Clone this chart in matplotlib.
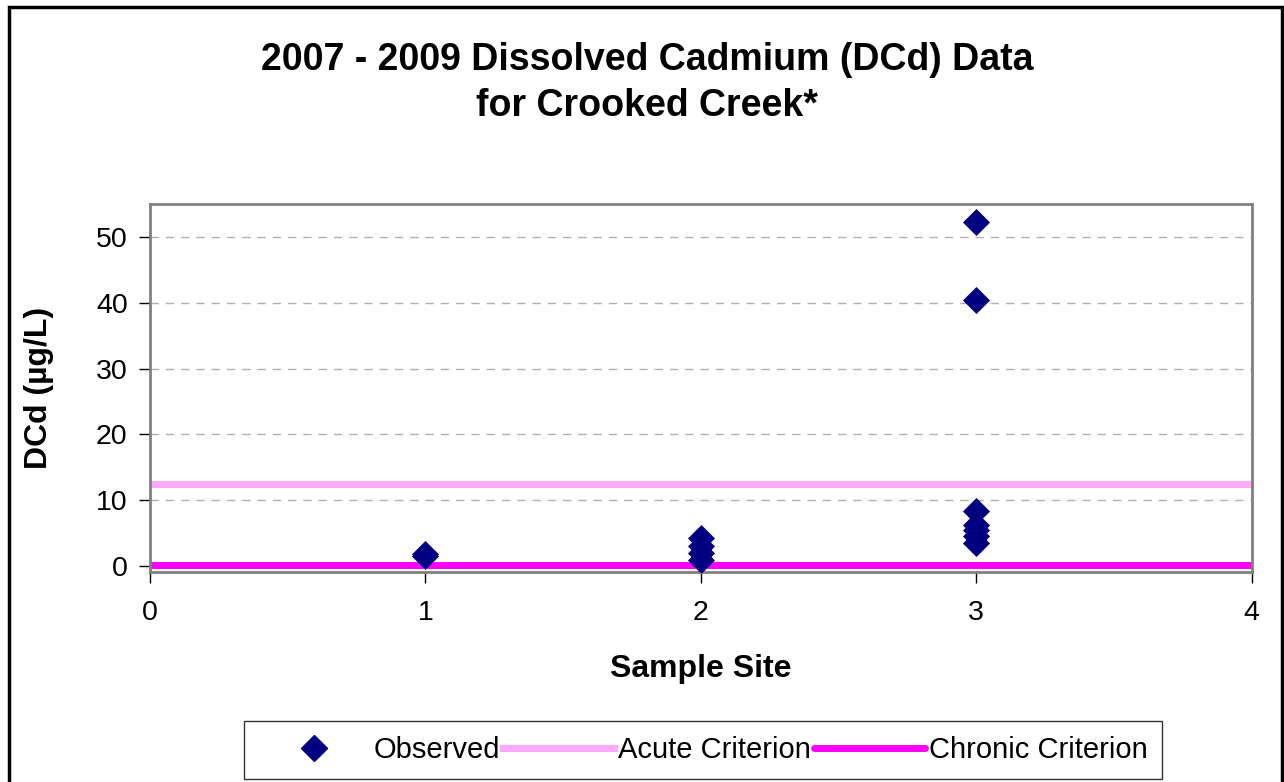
import matplotlib
matplotlib.use("Agg")
import matplotlib.pyplot as plt
from matplotlib.patches import Rectangle
from matplotlib.lines import Line2D

plt.rcParams['font.family'] = ['Liberation Sans', 'DejaVu Sans']

site1 = [1.5, 1.8]
site2 = [1.0, 2.0, 3.0, 4.2]
site3 = [3.5, 4.6, 5.5, 6.3, 8.3, 40.4, 52.3]
acute = 12.5
chronic = 0.2
xticks = [0, 1, 2, 3, 4]
yticks = [0, 10, 20, 30, 40, 50]

xs = [1] * len(site1) + [2] * len(site2) + [3] * len(site3)
ys = site1 + site2 + site3

fig = plt.figure(figsize=(12.84, 7.82), dpi=100)
ax = fig.add_axes([0.1168, 0.2685, 0.858, 0.4705])

ax.axhline(acute, color='#FFA8FF', lw=5, zorder=2)
ax.axhline(chronic, color='#FF00FF', lw=5, zorder=2, solid_capstyle='round')
ax.scatter(xs, ys, marker='D', s=190, color='#000080', zorder=3, linewidths=0)

ax.set_xlim(0, 4)
ax.set_ylim(-0.9, 55)
ax.set_xticks(xticks)
ax.set_yticks(yticks)
ax.yaxis.grid(True, linestyle=(0, (6, 5)), color='#B0B0B0', lw=1)
ax.set_axisbelow(True)
for s in ax.spines.values():
    s.set_color('#808080')
    s.set_linewidth(2)
ax.tick_params(axis='both', labelsize=20.5, direction='out', length=8, width=1, color='black')
ax.tick_params(axis='x', pad=12)
ax.tick_params(axis='y', pad=8)
ax.set_xlabel('Sample Site', fontsize=23, fontweight='bold', labelpad=20)
ax.set_ylabel('DCd (µg/L)', fontsize=23, fontweight='bold', labelpad=30)

fig.text(0.504, 1 - 60 / 782, '2007 - 2009 Dissolved Cadmium (DCd) Data',
         ha='center', va='center', fontsize=27, fontweight='bold')
fig.text(0.504, 1 - 106 / 782, 'for Crooked Creek*',
         ha='center', va='center', fontsize=27, fontweight='bold')

handles = [Line2D([], [], marker='D', color='#000080', ls='none', markersize=13),
           Line2D([], [], color='#FFA8FF', lw=5),
           Line2D([], [], color='#FF00FF', lw=5, solid_capstyle='round')]
labels = ['Observed', 'Acute Criterion', 'Chronic Criterion']
leg = fig.legend(handles, labels, loc='center', bbox_to_anchor=(703 / 1284, 1 - 750 / 782), ncol=3,
                 fontsize=21, frameon=True, fancybox=False, edgecolor='black',
                 handlelength=3.8, columnspacing=0.1, handletextpad=0.15, borderpad=0.5,
                 borderaxespad=0)
leg.get_frame().set_linewidth(1)

fig.patches.append(Rectangle((9 / 1284, -0.05), 1273 / 1284, 1.05 - 7 / 782, transform=fig.transFigure,
                             fill=False, edgecolor='black', lw=2.5))

fig.savefig('out.png', dpi=100)
